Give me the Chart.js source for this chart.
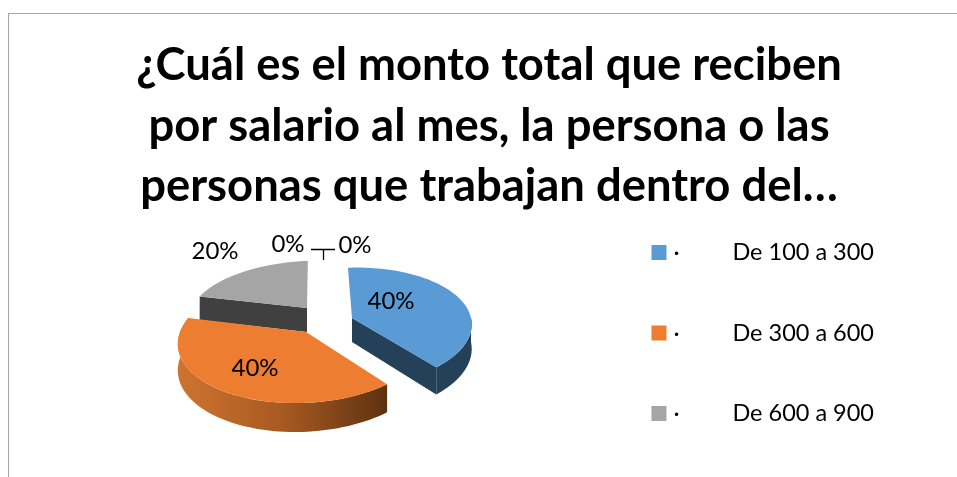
<!DOCTYPE html>
<html><head><meta charset="utf-8">
<style>
html,body{margin:0;padding:0;background:#fff;overflow:hidden}
#wrap{position:absolute;left:0;top:0;width:957px;height:477px}
#frame{position:absolute;left:8px;top:13px;right:0;bottom:0;border-left:1px solid #a6a6a6;border-top:1px solid #a6a6a6}
canvas{position:absolute;left:0;top:0}
</style>
<script src="https://cdn.jsdelivr.net/npm/chart.js@4/dist/chart.umd.min.js"></script>
</head><body>
<div id="wrap"><div id="frame"></div><canvas id="c" width="957" height="477"></canvas></div>
<script>
const titleLines = ["¿Cuál es el monto total que reciben","por salario al mes, la persona o las","personas que trabajan dentro del…"];
const categories = ["De 100 a 300","De 300 a 600","De 600 a 900","",""];
const values = [40,40,20,0,0];
const topColors = ["#5b9bd5","#ed7d31","#a5a5a5","#4472c4","#70ad47"];
const sideColors = ["#254059","#7a4119","#404040"];
const legendPad = "         ";

// Pseudo-3D look of each slice: own apex, radii, thickness
const sliceLook = [
 {ax:352,ay:318,rx:119,ry:58,p:0.15,sk:-5,d:24},
 {ax:306,ay:332,rx:126,ry:64,p:0.10,sk:-11,d:26},
 {ax:307,ay:308,rx:115,ry:52,p:0.10,sk:-10,d:24}
];
const labelSpots = [[391,301],[255,368],[215,251],[288,244],[355,245]];
const drawOrder = [2,0,1];

function proj(s,a){
  const u=Math.cos(a),v=Math.sin(a),f=1/(1-s.p*v);
  return [s.ax+s.rx*u*f+s.sk*v, s.ay+s.ry*v*f, f];
}
const fake3d = {
  id:'fake3d',
  beforeDatasetDraw(chart,args){
    const ctx=chart.ctx, arcs=chart.getDatasetMeta(0).data;
    drawOrder.forEach(i=>{
      const el=arcs[i], s=sliceLook[i], a0=el.startAngle, a1=el.endAngle;
      const cutA = i===0 ? a1 : (i===2 ? a0 : null);
      if(cutA!==null){
        const t=proj(s,cutA);
        ctx.beginPath();ctx.moveTo(s.ax,s.ay);ctx.lineTo(t[0],t[1]);
        ctx.lineTo(t[0],t[1]+s.d*t[2]);ctx.lineTo(s.ax,s.ay+s.d);ctx.closePath();
        ctx.fillStyle=sideColors[i];ctx.fill();
      }
      const w0=Math.max(a0,0), w1=Math.min(a1,Math.PI*1.07);
      if(i!==2 && w1>w0){
        const N=60;ctx.beginPath();
        for(let k=0;k<=N;k++){const p=proj(s,w0+(w1-w0)*k/N);k?ctx.lineTo(p[0],p[1]):ctx.moveTo(p[0],p[1]);}
        for(let k=N;k>=0;k--){const p=proj(s,w0+(w1-w0)*k/N);ctx.lineTo(p[0],p[1]+s.d*p[2]);}
        ctx.closePath();
        if(i===1){
          const g=ctx.createLinearGradient(177,0,387,0);
          g.addColorStop(0,'#cf7430');g.addColorStop(.5,'#a85a22');g.addColorStop(1,'#5e3210');
          ctx.fillStyle=g;
        } else ctx.fillStyle=sideColors[i];
        ctx.fill();
      }
      ctx.beginPath();ctx.moveTo(s.ax,s.ay);
      const N=80;
      for(let k=0;k<=N;k++){const p=proj(s,a0+(a1-a0)*k/N);ctx.lineTo(p[0],p[1]);}
      ctx.closePath();ctx.fillStyle=el.options.backgroundColor;ctx.fill();
    });
    return false;
  },
  afterDatasetsDraw(chart){
    const ctx=chart.ctx,total=values.reduce((a,b)=>a+b,0);
    ctx.save();
    ctx.font='24px Lato';ctx.fillStyle='#000';ctx.textAlign='center';ctx.textBaseline='middle';
    values.forEach((v,i)=>ctx.fillText(Math.round(v/total*100)+'%',labelSpots[i][0],labelSpots[i][1]));
    ctx.strokeStyle='#000';ctx.lineWidth=1.3;ctx.beginPath();
    ctx.moveTo(311,249.5);ctx.lineTo(335,249.5);ctx.moveTo(323.5,249.5);ctx.lineTo(323.5,260);ctx.stroke();
    ctx.restore();
  },
  afterDraw(chart){
    const ctx=chart.ctx;
    ctx.save();ctx.font='23.5px Lato';ctx.fillStyle='#000';ctx.textAlign='center';ctx.textBaseline='middle';
    chart.legend.legendHitBoxes.forEach(b=>ctx.fillText('·',b.left+25,b.top+b.height/2));
    ctx.restore();
  }
};
new Chart(document.getElementById('c'),{
  type:'pie',
  data:{labels:categories,datasets:[{data:values,backgroundColor:topColors,borderWidth:0}]},
  plugins:[fake3d],
  options:{
    responsive:false,animation:false,rotation:-5,
    layout:{padding:{top:0,right:73,bottom:-189,left:94}},
    plugins:{
      tooltip:{enabled:false},
      title:{display:true,text:titleLines,color:'#000',font:{family:'Lato',size:45.4,weight:'bold',lineHeight:1.335},padding:{top:35,bottom:8}},
      legend:{position:'right',labels:{
        color:'#000',font:{family:'Lato',size:23.5},boxWidth:15,boxHeight:15,padding:57,
        generateLabels(chart){
          return categories.map((c,i)=>({text:c?legendPad+c:'',fillStyle:topColors[i],strokeStyle:topColors[i],lineWidth:0,index:i,hidden:false}));
        },
        filter:(it)=>it.text!==''
      }}
    }
  }
});
</script>
</body></html>
